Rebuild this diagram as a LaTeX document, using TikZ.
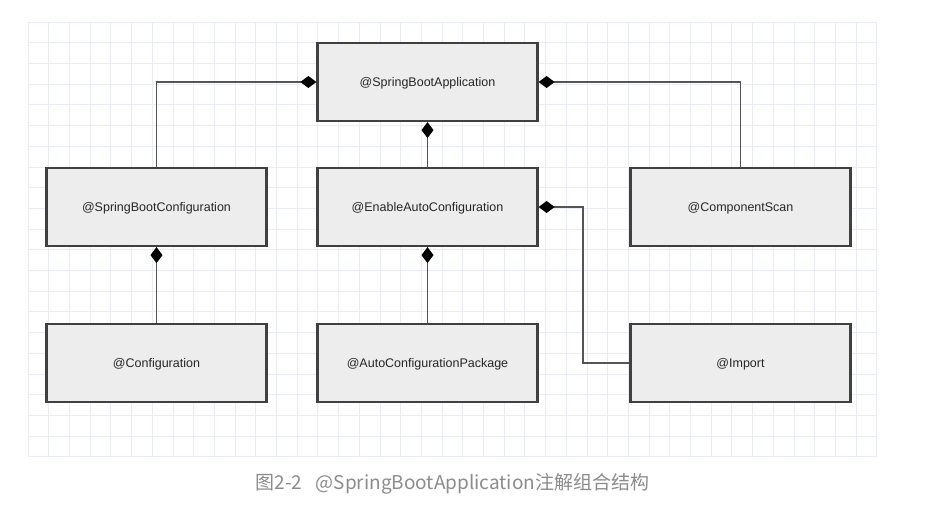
\documentclass[tikz,border=0pt]{standalone}
\usepackage{fontspec}
\setmainfont{Liberation Sans}
\newfontfamily\cjk{Noto Sans CJK SC}
\usetikzlibrary{arrows.meta}
\definecolor{gridc}{HTML}{EAECF3}
\definecolor{boxfill}{HTML}{EDEDED}
\definecolor{boxline}{HTML}{404040}
\definecolor{connc}{HTML}{555555}
\definecolor{capc}{HTML}{8C8C8C}
\tikzset{
  box/.style={draw=boxline, line width=2.2pt, fill=boxfill, minimum width=220pt, minimum height=78pt, inner sep=0pt, text height=10pt, text depth=0.5pt, font=\fontsize{12.5pt}{14pt}\selectfont, text=black!85},
  conn/.style={draw=connc, line width=1.3pt, -{Diamond[length=16pt,width=12pt,fill=black,color=black]}},
}
\begin{document}
\begin{tikzpicture}[x=1pt,y=-1pt]
\useasboundingbox (0,0) rectangle (940,506);
\fill[white] (0,0) rectangle (940,506);
% grid
\foreach \i in {0,...,41} {\draw[gridc, line width=0.8pt] (28+\i*20.7,22) -- (28+\i*20.7,457);}
\foreach \j in {0,...,21} {\draw[gridc, line width=0.8pt] (28,22+\j*20.7) -- (877,22+\j*20.7);}
% boxes
\node[box] (sba)  at (427.5,82)  {@SpringBootApplication};
\node[box] (sbc)  at (156.5,207) {@SpringBootConfiguration};
\node[box] (eac)  at (427.5,207) {@EnableAutoConfiguration};
\node[box] (cs)   at (740.5,207) {@ComponentScan};
\node[box] (conf) at (156.5,363) {@Configuration};
\node[box] (acp)  at (427.5,363) {@AutoConfigurationPackage};
\node[box] (imp)  at (740.5,363) {@Import};
\coordinate (jx) at (583,0);
% connectors
\draw[conn] (sbc.north) |- (sba.west);
\draw[conn] (cs.north) |- (sba.east);
\draw[conn] (eac.north) -- (sba.south);
\draw[conn] (conf.north) -- (sbc.south);
\draw[conn] (acp.north) -- (eac.south);
\draw[conn] (imp.west) -- (jx |- imp.west) -- (jx |- eac.east) -- (eac.east);
% caption
\node[text=capc, font=\cjk\fontsize{19pt}{21pt}\selectfont, inner sep=0pt] (cap) at (452.5,484) {图2-2\hspace{0.7em}@SpringBootApplication注解组合结构};
\end{tikzpicture}
\end{document}
